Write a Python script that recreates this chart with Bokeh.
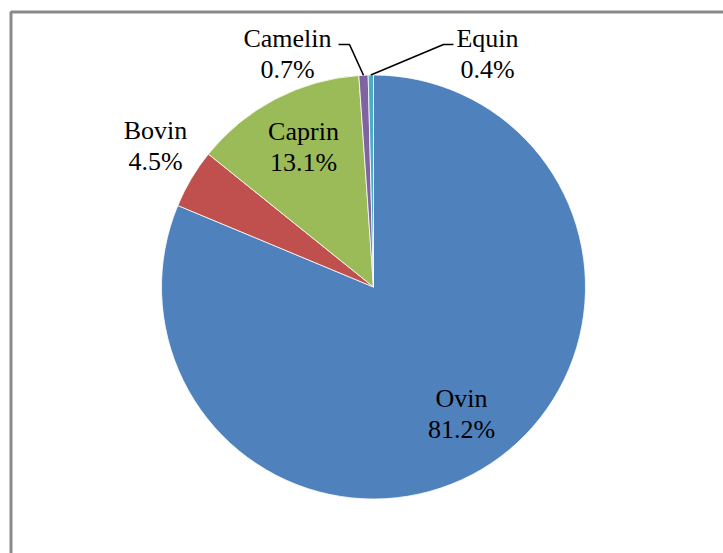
import math
from bokeh.plotting import figure
from bokeh.models import Range1d, ColumnDataSource
from bokeh.core.properties import value
from bokeh.embed import file_html
from bokeh.resources import INLINE

# Livestock composition (percent of total head count)
categories = ["Ovin", "Bovin", "Caprin", "Camelin", "Equin"]
shares = [81.2, 4.5, 13.1, 0.7, 0.4]
colors = ["#4F81BD", "#C0504D", "#9BBB59", "#8064A2", "#4BACC6"]

W, H = 723, 553
CX, CY, R = 373, 553 - 286.5, 212

p = figure(width=W, height=H, output_backend="svg", toolbar_location=None,
           x_range=Range1d(0, W), y_range=Range1d(0, H), min_border=0)
p.axis.visible = False
p.grid.visible = False
p.outline_line_color = None
p.background_fill_color = "white"
p.border_fill_color = "white"

# chart-area frame (right and bottom edges lie outside the page)
p.quad(left=[10.5], right=[W + 20], bottom=[-20], top=[H - 11.5],
       fill_color=None, line_color="#8a8a8a", line_width=3)

total = sum(shares)
starts, ends, mids = [], [], []
cum = 0.0
for s in shares:
    a0 = math.pi / 2 - 2 * math.pi * cum / total
    cum += s
    a1 = math.pi / 2 - 2 * math.pi * cum / total
    starts.append(a0)
    ends.append(a1)
    mids.append((a0 + a1) / 2)

src = ColumnDataSource(dict(x=[CX] * len(shares), y=[CY] * len(shares),
                            start=starts, end=ends, color=colors))
p.wedge(x="x", y="y", radius=R, start_angle="start", end_angle="end",
        direction="clock", fill_color="color", line_color="white",
        line_width=0.8, source=src)

# label centres (two lines: name, percentage)
label_pos = {
    "Ovin": (461, 155),
    "Bovin": (155, 423),
    "Caprin": (303, 422),
    "Camelin": (287, 515),
    "Equin": (487, 515),
}
LINE_GAP = 31
font = value("Liberation Serif")
for name, share in zip(categories, shares):
    lx, ly = label_pos[name]
    p.text(x=[lx, lx], y=[ly, ly - LINE_GAP], text=[name, f"{share}%"],
           text_font=font, text_font_size="26px", text_color="black",
           text_align="center", text_baseline="middle")

# leader lines for the two thin slices
leaders = {
    "Camelin": [(338, 553 - 44), (349, 553 - 44)],
    "Equin": [(453, 553 - 44), (443, 553 - 44)],
}
for name, pts in leaders.items():
    i = categories.index(name)
    ax = CX + R * math.cos(mids[i])
    ay = CY + R * math.sin(mids[i])
    xs = [pts[0][0], pts[1][0], ax]
    ys = [pts[0][1], pts[1][1], ay]
    p.line(xs, ys, line_color="black", line_width=1.6)

open("out.html", "w").write(file_html(p, INLINE))
